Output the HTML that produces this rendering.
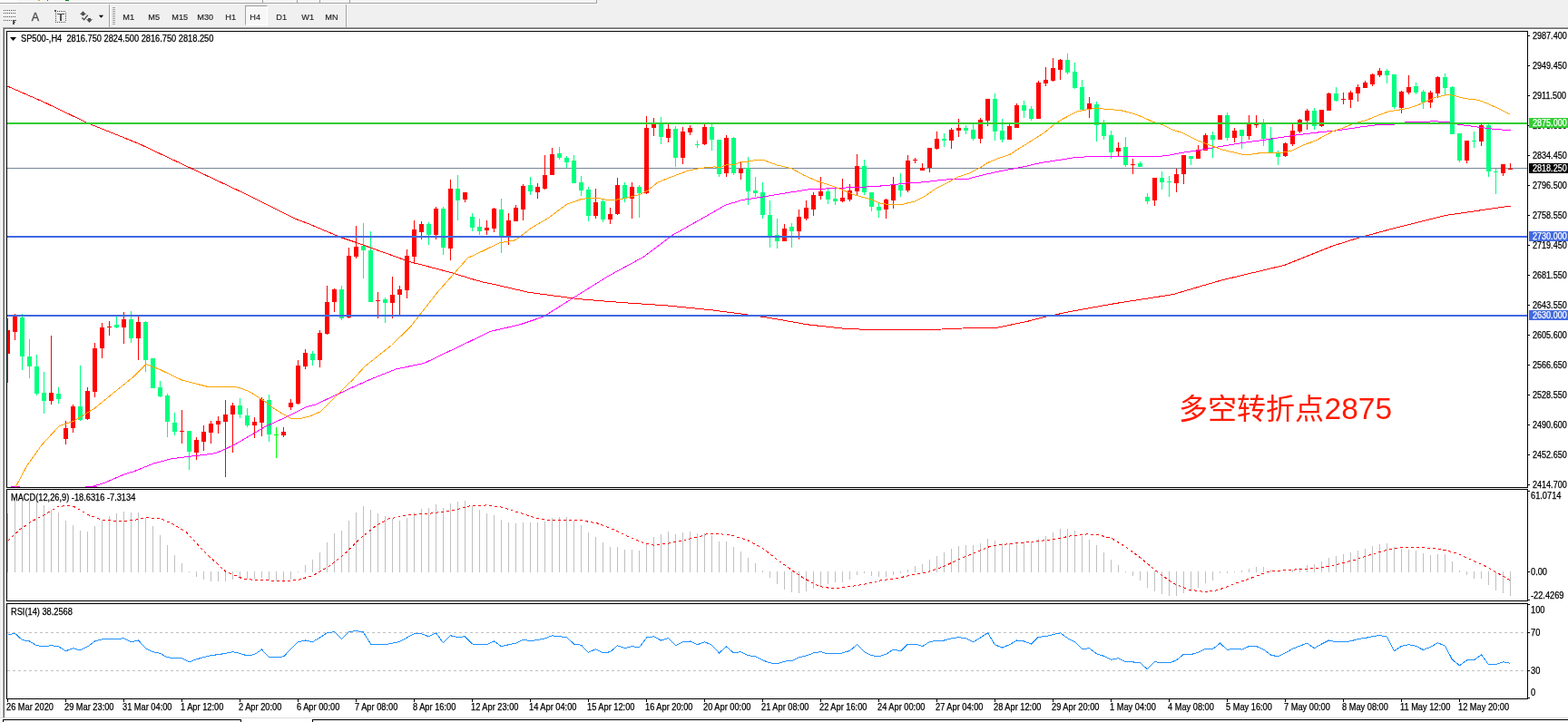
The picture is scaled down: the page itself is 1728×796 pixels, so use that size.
<!DOCTYPE html>
<html><head><meta charset="utf-8"><title>SP500 H4</title>
<style>
html,body{margin:0;padding:0;}
body{width:1728px;height:796px;overflow:hidden;background:#f0f0f0;position:relative;font-family:"Liberation Sans",sans-serif;}
.abs{position:absolute;}
.chart{position:absolute;left:0;top:0;}
.tf{position:absolute;top:13px;font-size:10px;letter-spacing:-0.2px;color:#222;line-height:11px;}
</style></head><body>
<div class="abs" style="left:0;top:0;width:657px;height:3px;background:#f5f5f5;"></div>
<div class="abs" style="left:0;top:0;width:19px;height:3px;background:#fcfcfc;"></div>
<div class="abs" style="left:0;top:3px;width:658px;height:1px;background:#a0a0a0;"></div>
<div class="abs" style="left:657px;top:0;width:1px;height:4px;background:#a0a0a0;"></div>
<div class="abs" style="left:0;top:4px;width:659px;height:1px;background:#fff;"></div>
<div class="abs" style="left:42px;top:0;width:2px;height:1px;background:#d0b040;"></div>
<div class="abs" style="left:52px;top:0;width:1px;height:1px;background:#555;"></div>
<div class="abs" style="left:72px;top:0;width:4px;height:1px;background:#108010;"></div>
<!-- toolbar separators -->
<div class="abs" style="left:120px;top:5px;width:1px;height:25px;background:#a0a0a0;"></div>
<div class="abs" style="left:121px;top:5px;width:1px;height:25px;background:#fff;"></div>
<div class="abs" style="left:381px;top:5px;width:1px;height:25px;background:#a0a0a0;"></div>
<div class="abs" style="left:382px;top:5px;width:1px;height:25px;background:#fff;"></div>
<div class="abs" style="left:289px;top:0;width:1px;height:3px;background:#a0a0a0;"></div>
<div class="abs" style="left:327px;top:0;width:1px;height:3px;background:#a0a0a0;"></div>
<div class="abs" style="left:352px;top:0;width:1px;height:3px;background:#a0a0a0;"></div>
<div class="abs" style="left:385px;top:0;width:1px;height:3px;background:#a0a0a0;"></div>
<div class="abs" style="left:124px;top:8px;width:3px;height:19px;background:repeating-linear-gradient(#a0a0a0 0 1px,transparent 1px 2px);"></div>
<!-- pressed H4 -->
<div class="abs" style="left:270px;top:6px;width:25px;height:22px;background:#f7f7f7;border-top:1px solid #a0a0a0;border-left:1px solid #a0a0a0;border-right:1px solid #fff;border-bottom:1px solid #fff;box-sizing:border-box;"></div>
<svg class="abs" style="left:0;top:0" width="400" height="30" viewBox="0 0 400 30"><text x="135.3" y="21.8" font-family="Liberation Sans, sans-serif" font-size="9.6" textLength="12.71" lengthAdjust="spacingAndGlyphs" fill="#2a2a2a" stroke="#2a2a2a" stroke-width="0.2">M1</text><text x="163.3" y="21.8" font-family="Liberation Sans, sans-serif" font-size="9.6" textLength="12.71" lengthAdjust="spacingAndGlyphs" fill="#2a2a2a" stroke="#2a2a2a" stroke-width="0.2">M5</text><text x="189.3" y="21.8" font-family="Liberation Sans, sans-serif" font-size="9.6" textLength="17.80" lengthAdjust="spacingAndGlyphs" fill="#2a2a2a" stroke="#2a2a2a" stroke-width="0.2">M15</text><text x="217.3" y="21.8" font-family="Liberation Sans, sans-serif" font-size="9.6" textLength="17.80" lengthAdjust="spacingAndGlyphs" fill="#2a2a2a" stroke="#2a2a2a" stroke-width="0.2">M30</text><text x="248.3" y="21.8" font-family="Liberation Sans, sans-serif" font-size="9.6" textLength="11.70" lengthAdjust="spacingAndGlyphs" fill="#2a2a2a" stroke="#2a2a2a" stroke-width="0.2">H1</text><text x="275.3" y="21.8" font-family="Liberation Sans, sans-serif" font-size="9.6" textLength="11.70" lengthAdjust="spacingAndGlyphs" fill="#2a2a2a" stroke="#2a2a2a" stroke-width="0.2">H4</text><text x="304.3" y="21.8" font-family="Liberation Sans, sans-serif" font-size="9.6" textLength="11.70" lengthAdjust="spacingAndGlyphs" fill="#2a2a2a" stroke="#2a2a2a" stroke-width="0.2">D1</text><text x="332.3" y="21.8" font-family="Liberation Sans, sans-serif" font-size="9.6" textLength="13.73" lengthAdjust="spacingAndGlyphs" fill="#2a2a2a" stroke="#2a2a2a" stroke-width="0.2">W1</text><text x="358.3" y="21.8" font-family="Liberation Sans, sans-serif" font-size="9.6" textLength="14.23" lengthAdjust="spacingAndGlyphs" fill="#2a2a2a" stroke="#2a2a2a" stroke-width="0.2">MN</text></svg>
<!-- icons -->
<svg class="abs" style="left:0;top:0" width="120" height="30" viewBox="0 0 120 30">
 <g fill="#505050" shape-rendering="crispEdges">
  <rect x="4" y="11" width="1" height="1"/><rect x="6" y="11" width="1" height="1"/><rect x="8" y="11" width="1" height="1"/><rect x="10" y="11" width="1" height="1"/><rect x="12" y="11" width="1" height="1"/><rect x="14" y="11" width="1" height="1"/><rect x="16" y="11" width="1" height="1"/>
  <rect x="4" y="14" width="1" height="1"/><rect x="6" y="14" width="1" height="1"/><rect x="8" y="14" width="1" height="1"/><rect x="10" y="14" width="1" height="1"/><rect x="12" y="14" width="1" height="1"/><rect x="14" y="14" width="1" height="1"/><rect x="16" y="14" width="1" height="1"/>
  <rect x="4" y="18" width="1" height="1"/><rect x="6" y="18" width="1" height="1"/><rect x="8" y="18" width="1" height="1"/><rect x="10" y="18" width="1" height="1"/><rect x="12" y="18" width="1" height="1"/><rect x="14" y="18" width="1" height="1"/><rect x="16" y="18" width="1" height="1"/>
  <rect x="4" y="22" width="1" height="1"/><rect x="6" y="22" width="1" height="1"/><rect x="8" y="22" width="1" height="1"/><rect x="10" y="22" width="1" height="1"/><rect x="12" y="22" width="1" height="1"/>
  <rect x="14" y="22" width="4" height="1"/><rect x="14" y="22" width="1.5" height="5"/><rect x="14" y="24" width="3" height="1"/>
  <rect x="61" y="12" width="1" height="1"/><rect x="60" y="11" width="2" height="1.5"/>
  <rect x="63" y="12" width="1" height="1"/><rect x="65" y="12" width="1" height="1"/><rect x="67" y="12" width="1" height="1"/><rect x="69" y="12" width="1" height="1"/><rect x="71" y="12" width="1" height="1"/>
  <rect x="61" y="24" width="1" height="1"/><rect x="63" y="24" width="1" height="1"/><rect x="65" y="24" width="1" height="1"/><rect x="67" y="24" width="1" height="1"/><rect x="69" y="24" width="1" height="1"/><rect x="71" y="24" width="1" height="1"/>
  <rect x="61" y="14" width="1" height="1"/><rect x="61" y="16" width="1" height="1"/><rect x="61" y="18" width="1" height="1"/><rect x="61" y="20" width="1" height="1"/><rect x="61" y="22" width="1" height="1"/>
  <rect x="72" y="14" width="1" height="1"/><rect x="72" y="16" width="1" height="1"/><rect x="72" y="18" width="1" height="1"/><rect x="72" y="20" width="1" height="1"/><rect x="72" y="22" width="1" height="1"/>
  <rect x="63" y="15" width="8" height="1.3"/><rect x="66.2" y="15" width="1.8" height="7.6"/>
 </g>
 <text x="34.8" y="22.8" font-family="Liberation Sans, sans-serif" font-size="12.5" fill="#505050" stroke="#505050" stroke-width="0.35">A</text>
 <path d="M88 16L91.5 12.3L95 16L93 16L93 17.3L90 17.3L90 16Z M97 20L100 20L100 21.3L102 21.3L98.5 25L95 21.3L97 21.3Z" fill="#505050"/>
 <path d="M90.4 19.6L92.6 21.8L96.8 16.6" stroke="#505050" stroke-width="1.4" fill="none"/>
 <path d="M108.9 16.8h5.2l-2.6 3z" fill="#000"/>
</svg>
<!-- MDI sunken edge -->
<div class="abs" style="left:3px;top:30px;width:1725px;height:1px;background:#a0a0a0;"></div>
<div class="abs" style="left:4px;top:31px;width:1724px;height:1px;background:#696969;"></div>
<div class="abs" style="left:3px;top:30px;width:1px;height:761px;background:#a0a0a0;"></div>
<div class="abs" style="left:4px;top:31px;width:1px;height:760px;background:#696969;"></div>
<div class="abs" style="left:2px;top:31px;width:1px;height:760px;background:#fff;"></div>
<svg class="chart" width="1728" height="796" viewBox="0 0 1728 796"><rect x="5" y="32" width="1723" height="759" fill="#fff"/><defs><clipPath id="cm"><rect x="8" y="35" width="1675" height="502"/></clipPath><clipPath id="cd"><rect x="8" y="541" width="1675" height="121"/></clipPath><clipPath id="cr"><rect x="8" y="667" width="1675" height="103"/></clipPath></defs><g clip-path="url(#cm)" shape-rendering="crispEdges"><rect x="8" y="185" width="1675" height="1" fill="#778899"/><rect x="8" y="351" width="1" height="71" fill="#ff0000"/><rect x="6" y="364" width="5" height="26" fill="#ff0000"/><rect x="16" y="346" width="1" height="29" fill="#ff0000"/><rect x="14" y="349" width="5" height="17" fill="#ff0000"/><rect x="24" y="346" width="1" height="62" fill="#00ff7f"/><rect x="22" y="350" width="5" height="43" fill="#00ff7f"/><rect x="32" y="374" width="1" height="43" fill="#00ff7f"/><rect x="30" y="393" width="5" height="11" fill="#00ff7f"/><rect x="40" y="391" width="1" height="45" fill="#00ff7f"/><rect x="38" y="404" width="5" height="30" fill="#00ff7f"/><rect x="48" y="410" width="1" height="46" fill="#00ff7f"/><rect x="46" y="433" width="5" height="9" fill="#00ff7f"/><rect x="56" y="370" width="1" height="76" fill="#ff0000"/><rect x="54" y="433" width="5" height="9" fill="#ff0000"/><rect x="64" y="427" width="1" height="18" fill="#00ff7f"/><rect x="62" y="434" width="5" height="6" fill="#00ff7f"/><rect x="72" y="464" width="1" height="26" fill="#ff0000"/><rect x="70" y="472" width="5" height="12" fill="#ff0000"/><rect x="80" y="446" width="1" height="31" fill="#ff0000"/><rect x="78" y="448" width="5" height="24" fill="#ff0000"/><rect x="88" y="403" width="1" height="61" fill="#00ff7f"/><rect x="86" y="448" width="5" height="15" fill="#00ff7f"/><rect x="96" y="427" width="1" height="36" fill="#ff0000"/><rect x="94" y="431" width="5" height="31" fill="#ff0000"/><rect x="104" y="378" width="1" height="60" fill="#ff0000"/><rect x="102" y="384" width="5" height="48" fill="#ff0000"/><rect x="112" y="356" width="1" height="39" fill="#ff0000"/><rect x="110" y="361" width="5" height="23" fill="#ff0000"/><rect x="120" y="354" width="1" height="16" fill="#ff0000"/><rect x="118" y="360" width="5" height="1" fill="#ff0000"/><rect x="128" y="349" width="1" height="13" fill="#00ff7f"/><rect x="126" y="358" width="5" height="3" fill="#00ff7f"/><rect x="136" y="344" width="1" height="35" fill="#ff0000"/><rect x="134" y="352" width="5" height="9" fill="#ff0000"/><rect x="144" y="343" width="1" height="35" fill="#00ff7f"/><rect x="142" y="352" width="5" height="21" fill="#00ff7f"/><rect x="152" y="349" width="1" height="48" fill="#ff0000"/><rect x="150" y="355" width="5" height="18" fill="#ff0000"/><rect x="160" y="354" width="1" height="56" fill="#00ff7f"/><rect x="158" y="355" width="5" height="42" fill="#00ff7f"/><rect x="168" y="395" width="1" height="33" fill="#00ff7f"/><rect x="166" y="395" width="5" height="33" fill="#00ff7f"/><rect x="176" y="420" width="1" height="18" fill="#00ff7f"/><rect x="174" y="427" width="5" height="10" fill="#00ff7f"/><rect x="184" y="434" width="1" height="48" fill="#00ff7f"/><rect x="182" y="436" width="5" height="29" fill="#00ff7f"/><rect x="192" y="455" width="1" height="25" fill="#00ff7f"/><rect x="190" y="466" width="5" height="10" fill="#00ff7f"/><rect x="200" y="452" width="1" height="37" fill="#ff0000"/><rect x="198" y="475" width="5" height="1" fill="#ff0000"/><rect x="208" y="475" width="1" height="43" fill="#00ff7f"/><rect x="206" y="475" width="5" height="23" fill="#00ff7f"/><rect x="216" y="482" width="1" height="25" fill="#ff0000"/><rect x="214" y="485" width="5" height="14" fill="#ff0000"/><rect x="224" y="469" width="1" height="28" fill="#ff0000"/><rect x="222" y="476" width="5" height="11" fill="#ff0000"/><rect x="232" y="464" width="1" height="25" fill="#ff0000"/><rect x="230" y="467" width="5" height="10" fill="#ff0000"/><rect x="240" y="459" width="1" height="19" fill="#ff0000"/><rect x="238" y="464" width="5" height="4" fill="#ff0000"/><rect x="248" y="441" width="1" height="85" fill="#ff0000"/><rect x="246" y="457" width="5" height="8" fill="#ff0000"/><rect x="256" y="444" width="1" height="55" fill="#ff0000"/><rect x="254" y="447" width="5" height="10" fill="#ff0000"/><rect x="264" y="439" width="1" height="22" fill="#00ff7f"/><rect x="262" y="447" width="5" height="10" fill="#00ff7f"/><rect x="272" y="450" width="1" height="21" fill="#00ff7f"/><rect x="270" y="458" width="5" height="11" fill="#00ff7f"/><rect x="280" y="460" width="1" height="23" fill="#ff0000"/><rect x="278" y="465" width="5" height="4" fill="#ff0000"/><rect x="288" y="438" width="1" height="43" fill="#ff0000"/><rect x="286" y="440" width="5" height="26" fill="#ff0000"/><rect x="296" y="435" width="1" height="52" fill="#00ff7f"/><rect x="294" y="441" width="5" height="38" fill="#00ff7f"/><rect x="304" y="471" width="1" height="34" fill="#00ff00"/><rect x="302" y="479" width="5" height="1" fill="#00ff00"/><rect x="312" y="471" width="1" height="11" fill="#ff0000"/><rect x="310" y="476" width="5" height="4" fill="#ff0000"/><rect x="320" y="440" width="1" height="12" fill="#ff0000"/><rect x="318" y="444" width="5" height="5" fill="#ff0000"/><rect x="328" y="397" width="1" height="49" fill="#ff0000"/><rect x="326" y="403" width="5" height="42" fill="#ff0000"/><rect x="336" y="385" width="1" height="22" fill="#ff0000"/><rect x="334" y="389" width="5" height="15" fill="#ff0000"/><rect x="344" y="387" width="1" height="16" fill="#00ff7f"/><rect x="342" y="390" width="5" height="7" fill="#00ff7f"/><rect x="352" y="364" width="1" height="41" fill="#ff0000"/><rect x="350" y="367" width="5" height="30" fill="#ff0000"/><rect x="360" y="315" width="1" height="54" fill="#ff0000"/><rect x="358" y="333" width="5" height="35" fill="#ff0000"/><rect x="368" y="318" width="1" height="26" fill="#ff0000"/><rect x="366" y="319" width="5" height="14" fill="#ff0000"/><rect x="376" y="315" width="1" height="38" fill="#00ff7f"/><rect x="374" y="319" width="5" height="32" fill="#00ff7f"/><rect x="384" y="273" width="1" height="78" fill="#ff0000"/><rect x="382" y="282" width="5" height="68" fill="#ff0000"/><rect x="392" y="249" width="1" height="36" fill="#ff0000"/><rect x="390" y="272" width="5" height="11" fill="#ff0000"/><rect x="400" y="246" width="1" height="61" fill="#00ff7f"/><rect x="398" y="271" width="5" height="5" fill="#00ff7f"/><rect x="408" y="255" width="1" height="78" fill="#00ff7f"/><rect x="406" y="276" width="5" height="57" fill="#00ff7f"/><rect x="416" y="322" width="1" height="29" fill="#ff0000"/><rect x="414" y="331" width="5" height="1" fill="#ff0000"/><rect x="424" y="328" width="1" height="28" fill="#00ff7f"/><rect x="422" y="330" width="5" height="4" fill="#00ff7f"/><rect x="432" y="305" width="1" height="46" fill="#ff0000"/><rect x="430" y="325" width="5" height="9" fill="#ff0000"/><rect x="440" y="315" width="1" height="34" fill="#ff0000"/><rect x="438" y="319" width="5" height="6" fill="#ff0000"/><rect x="448" y="275" width="1" height="54" fill="#ff0000"/><rect x="446" y="282" width="5" height="38" fill="#ff0000"/><rect x="456" y="243" width="1" height="46" fill="#ff0000"/><rect x="454" y="253" width="5" height="30" fill="#ff0000"/><rect x="464" y="244" width="1" height="20" fill="#ff0000"/><rect x="462" y="247" width="5" height="9" fill="#ff0000"/><rect x="472" y="245" width="1" height="25" fill="#00ff7f"/><rect x="470" y="247" width="5" height="12" fill="#00ff7f"/><rect x="480" y="228" width="1" height="36" fill="#ff0000"/><rect x="478" y="230" width="5" height="29" fill="#ff0000"/><rect x="488" y="228" width="1" height="53" fill="#00ff7f"/><rect x="486" y="230" width="5" height="43" fill="#00ff7f"/><rect x="496" y="198" width="1" height="89" fill="#ff0000"/><rect x="494" y="208" width="5" height="66" fill="#ff0000"/><rect x="504" y="193" width="1" height="50" fill="#00ff7f"/><rect x="502" y="208" width="5" height="13" fill="#00ff7f"/><rect x="512" y="212" width="1" height="11" fill="#ff0000"/><rect x="510" y="212" width="5" height="8" fill="#ff0000"/><rect x="520" y="235" width="1" height="20" fill="#00ff7f"/><rect x="518" y="239" width="5" height="12" fill="#00ff7f"/><rect x="528" y="241" width="1" height="18" fill="#00ff7f"/><rect x="526" y="250" width="5" height="5" fill="#00ff7f"/><rect x="536" y="243" width="1" height="16" fill="#ff0000"/><rect x="534" y="251" width="5" height="3" fill="#ff0000"/><rect x="544" y="229" width="1" height="27" fill="#ff0000"/><rect x="542" y="230" width="5" height="22" fill="#ff0000"/><rect x="552" y="219" width="1" height="60" fill="#00ff7f"/><rect x="550" y="231" width="5" height="29" fill="#00ff7f"/><rect x="560" y="235" width="1" height="35" fill="#ff0000"/><rect x="558" y="243" width="5" height="17" fill="#ff0000"/><rect x="568" y="226" width="1" height="18" fill="#ff0000"/><rect x="566" y="229" width="5" height="15" fill="#ff0000"/><rect x="576" y="203" width="1" height="40" fill="#ff0000"/><rect x="574" y="205" width="5" height="26" fill="#ff0000"/><rect x="584" y="195" width="1" height="20" fill="#00ff7f"/><rect x="582" y="204" width="5" height="7" fill="#00ff7f"/><rect x="592" y="202" width="1" height="17" fill="#ff0000"/><rect x="590" y="206" width="5" height="6" fill="#ff0000"/><rect x="600" y="171" width="1" height="38" fill="#ff0000"/><rect x="598" y="193" width="5" height="15" fill="#ff0000"/><rect x="608" y="163" width="1" height="30" fill="#ff0000"/><rect x="606" y="170" width="5" height="23" fill="#ff0000"/><rect x="616" y="162" width="1" height="14" fill="#00ff7f"/><rect x="614" y="169" width="5" height="5" fill="#00ff7f"/><rect x="624" y="172" width="1" height="13" fill="#00ff7f"/><rect x="622" y="174" width="5" height="5" fill="#00ff7f"/><rect x="632" y="171" width="1" height="31" fill="#00ff7f"/><rect x="630" y="177" width="5" height="25" fill="#00ff7f"/><rect x="640" y="194" width="1" height="22" fill="#00ff7f"/><rect x="638" y="201" width="5" height="9" fill="#00ff7f"/><rect x="648" y="206" width="1" height="38" fill="#00ff7f"/><rect x="646" y="209" width="5" height="29" fill="#00ff7f"/><rect x="656" y="208" width="1" height="33" fill="#ff0000"/><rect x="654" y="223" width="5" height="15" fill="#ff0000"/><rect x="664" y="220" width="1" height="25" fill="#00ff7f"/><rect x="662" y="222" width="5" height="20" fill="#00ff7f"/><rect x="672" y="229" width="1" height="18" fill="#ff0000"/><rect x="670" y="236" width="5" height="6" fill="#ff0000"/><rect x="680" y="196" width="1" height="41" fill="#ff0000"/><rect x="678" y="204" width="5" height="32" fill="#ff0000"/><rect x="688" y="201" width="1" height="22" fill="#00ff7f"/><rect x="686" y="204" width="5" height="15" fill="#00ff7f"/><rect x="696" y="201" width="1" height="40" fill="#ff0000"/><rect x="694" y="206" width="5" height="13" fill="#ff0000"/><rect x="704" y="204" width="1" height="36" fill="#00ff7f"/><rect x="702" y="206" width="5" height="7" fill="#00ff7f"/><rect x="712" y="128" width="1" height="86" fill="#ff0000"/><rect x="710" y="141" width="5" height="72" fill="#ff0000"/><rect x="720" y="130" width="1" height="20" fill="#ff0000"/><rect x="718" y="136" width="5" height="5" fill="#ff0000"/><rect x="728" y="129" width="1" height="30" fill="#00ff7f"/><rect x="726" y="136" width="5" height="15" fill="#00ff7f"/><rect x="736" y="137" width="1" height="20" fill="#ff0000"/><rect x="734" y="142" width="5" height="10" fill="#ff0000"/><rect x="744" y="139" width="1" height="45" fill="#00ff7f"/><rect x="742" y="142" width="5" height="32" fill="#00ff7f"/><rect x="752" y="140" width="1" height="41" fill="#ff0000"/><rect x="750" y="145" width="5" height="29" fill="#ff0000"/><rect x="760" y="138" width="1" height="11" fill="#ff0000"/><rect x="758" y="141" width="5" height="5" fill="#ff0000"/><rect x="768" y="155" width="1" height="8" fill="#00ff7f"/><rect x="766" y="159" width="5" height="1" fill="#00ff7f"/><rect x="776" y="137" width="1" height="23" fill="#ff0000"/><rect x="774" y="140" width="5" height="19" fill="#ff0000"/><rect x="784" y="136" width="1" height="30" fill="#00ff7f"/><rect x="782" y="140" width="5" height="14" fill="#00ff7f"/><rect x="792" y="154" width="1" height="41" fill="#00ff7f"/><rect x="790" y="154" width="5" height="38" fill="#00ff7f"/><rect x="800" y="149" width="1" height="46" fill="#ff0000"/><rect x="798" y="152" width="5" height="39" fill="#ff0000"/><rect x="808" y="151" width="1" height="42" fill="#00ff7f"/><rect x="806" y="152" width="5" height="39" fill="#00ff7f"/><rect x="816" y="178" width="1" height="20" fill="#ff0000"/><rect x="814" y="186" width="5" height="5" fill="#ff0000"/><rect x="824" y="173" width="1" height="53" fill="#00ff7f"/><rect x="822" y="185" width="5" height="26" fill="#00ff7f"/><rect x="832" y="195" width="1" height="22" fill="#00ff7f"/><rect x="830" y="210" width="5" height="3" fill="#00ff7f"/><rect x="840" y="201" width="1" height="40" fill="#00ff7f"/><rect x="838" y="212" width="5" height="25" fill="#00ff7f"/><rect x="848" y="221" width="1" height="52" fill="#00ff7f"/><rect x="846" y="237" width="5" height="23" fill="#00ff7f"/><rect x="856" y="241" width="1" height="33" fill="#00ff7f"/><rect x="854" y="259" width="5" height="7" fill="#00ff7f"/><rect x="864" y="247" width="1" height="19" fill="#ff0000"/><rect x="862" y="252" width="5" height="14" fill="#ff0000"/><rect x="872" y="246" width="1" height="27" fill="#00ff7f"/><rect x="870" y="250" width="5" height="5" fill="#00ff7f"/><rect x="880" y="231" width="1" height="33" fill="#ff0000"/><rect x="878" y="239" width="5" height="16" fill="#ff0000"/><rect x="888" y="221" width="1" height="22" fill="#ff0000"/><rect x="886" y="229" width="5" height="12" fill="#ff0000"/><rect x="896" y="212" width="1" height="26" fill="#ff0000"/><rect x="894" y="215" width="5" height="16" fill="#ff0000"/><rect x="904" y="195" width="1" height="25" fill="#ff0000"/><rect x="902" y="211" width="5" height="5" fill="#ff0000"/><rect x="912" y="208" width="1" height="17" fill="#00ff7f"/><rect x="910" y="211" width="5" height="9" fill="#00ff7f"/><rect x="920" y="208" width="1" height="18" fill="#00ff7f"/><rect x="918" y="219" width="5" height="3" fill="#00ff7f"/><rect x="928" y="197" width="1" height="26" fill="#ff0000"/><rect x="926" y="218" width="5" height="4" fill="#ff0000"/><rect x="936" y="203" width="1" height="19" fill="#ff0000"/><rect x="934" y="210" width="5" height="10" fill="#ff0000"/><rect x="944" y="170" width="1" height="45" fill="#ff0000"/><rect x="942" y="183" width="5" height="28" fill="#ff0000"/><rect x="952" y="176" width="1" height="39" fill="#00ff7f"/><rect x="950" y="183" width="5" height="29" fill="#00ff7f"/><rect x="960" y="212" width="1" height="21" fill="#00ff7f"/><rect x="958" y="212" width="5" height="16" fill="#00ff7f"/><rect x="968" y="224" width="1" height="16" fill="#00ff7f"/><rect x="966" y="228" width="5" height="4" fill="#00ff7f"/><rect x="976" y="219" width="1" height="22" fill="#ff0000"/><rect x="974" y="220" width="5" height="11" fill="#ff0000"/><rect x="984" y="195" width="1" height="35" fill="#ff0000"/><rect x="982" y="203" width="5" height="18" fill="#ff0000"/><rect x="992" y="191" width="1" height="26" fill="#00ff7f"/><rect x="990" y="204" width="5" height="6" fill="#00ff7f"/><rect x="1000" y="171" width="1" height="41" fill="#ff0000"/><rect x="998" y="177" width="5" height="33" fill="#ff0000"/><rect x="1008" y="174" width="1" height="6" fill="#ff0000"/><rect x="1006" y="176" width="5" height="1" fill="#ff0000"/><rect x="1016" y="180" width="1" height="8" fill="#ff0000"/><rect x="1014" y="185" width="5" height="3" fill="#ff0000"/><rect x="1024" y="163" width="1" height="27" fill="#ff0000"/><rect x="1022" y="163" width="5" height="22" fill="#ff0000"/><rect x="1032" y="145" width="1" height="20" fill="#ff0000"/><rect x="1030" y="153" width="5" height="11" fill="#ff0000"/><rect x="1040" y="147" width="1" height="15" fill="#00ff7f"/><rect x="1038" y="153" width="5" height="2" fill="#00ff7f"/><rect x="1048" y="141" width="1" height="23" fill="#ff0000"/><rect x="1046" y="143" width="5" height="12" fill="#ff0000"/><rect x="1056" y="131" width="1" height="20" fill="#ff0000"/><rect x="1054" y="141" width="5" height="3" fill="#ff0000"/><rect x="1064" y="138" width="1" height="10" fill="#00ff7f"/><rect x="1062" y="141" width="5" height="3" fill="#00ff7f"/><rect x="1072" y="137" width="1" height="18" fill="#00ff7f"/><rect x="1070" y="143" width="5" height="10" fill="#00ff7f"/><rect x="1080" y="130" width="1" height="28" fill="#ff0000"/><rect x="1078" y="132" width="5" height="21" fill="#ff0000"/><rect x="1088" y="109" width="1" height="30" fill="#ff0000"/><rect x="1086" y="109" width="5" height="24" fill="#ff0000"/><rect x="1096" y="103" width="1" height="52" fill="#00ff7f"/><rect x="1094" y="109" width="5" height="36" fill="#00ff7f"/><rect x="1104" y="131" width="1" height="26" fill="#00ff7f"/><rect x="1102" y="144" width="5" height="10" fill="#00ff7f"/><rect x="1112" y="137" width="1" height="17" fill="#ff0000"/><rect x="1110" y="139" width="5" height="15" fill="#ff0000"/><rect x="1120" y="114" width="1" height="27" fill="#ff0000"/><rect x="1118" y="116" width="5" height="25" fill="#ff0000"/><rect x="1128" y="111" width="1" height="19" fill="#00ff7f"/><rect x="1126" y="116" width="5" height="6" fill="#00ff7f"/><rect x="1136" y="117" width="1" height="16" fill="#00ff7f"/><rect x="1134" y="120" width="5" height="11" fill="#00ff7f"/><rect x="1144" y="89" width="1" height="42" fill="#ff0000"/><rect x="1142" y="91" width="5" height="40" fill="#ff0000"/><rect x="1152" y="74" width="1" height="21" fill="#ff0000"/><rect x="1150" y="88" width="5" height="4" fill="#ff0000"/><rect x="1160" y="64" width="1" height="26" fill="#ff0000"/><rect x="1158" y="75" width="5" height="14" fill="#ff0000"/><rect x="1168" y="65" width="1" height="23" fill="#ff0000"/><rect x="1166" y="66" width="5" height="11" fill="#ff0000"/><rect x="1176" y="59" width="1" height="23" fill="#00ff7f"/><rect x="1174" y="66" width="5" height="14" fill="#00ff7f"/><rect x="1184" y="69" width="1" height="29" fill="#00ff7f"/><rect x="1182" y="79" width="5" height="18" fill="#00ff7f"/><rect x="1192" y="88" width="1" height="34" fill="#00ff7f"/><rect x="1190" y="96" width="5" height="25" fill="#00ff7f"/><rect x="1200" y="107" width="1" height="23" fill="#ff0000"/><rect x="1198" y="114" width="5" height="6" fill="#ff0000"/><rect x="1208" y="112" width="1" height="44" fill="#00ff7f"/><rect x="1206" y="115" width="5" height="23" fill="#00ff7f"/><rect x="1216" y="132" width="1" height="22" fill="#00ff7f"/><rect x="1214" y="136" width="5" height="14" fill="#00ff7f"/><rect x="1224" y="144" width="1" height="31" fill="#00ff7f"/><rect x="1222" y="149" width="5" height="19" fill="#00ff7f"/><rect x="1232" y="157" width="1" height="15" fill="#ff0000"/><rect x="1230" y="163" width="5" height="4" fill="#ff0000"/><rect x="1240" y="151" width="1" height="33" fill="#00ff7f"/><rect x="1238" y="162" width="5" height="20" fill="#00ff7f"/><rect x="1248" y="175" width="1" height="17" fill="#ff0000"/><rect x="1246" y="181" width="5" height="1" fill="#ff0000"/><rect x="1256" y="178" width="1" height="6" fill="#00ff7f"/><rect x="1254" y="180" width="5" height="4" fill="#00ff7f"/><rect x="1264" y="213" width="1" height="12" fill="#00ff7f"/><rect x="1262" y="217" width="5" height="5" fill="#00ff7f"/><rect x="1272" y="196" width="1" height="31" fill="#ff0000"/><rect x="1270" y="196" width="5" height="25" fill="#ff0000"/><rect x="1280" y="189" width="1" height="20" fill="#00ff7f"/><rect x="1278" y="196" width="5" height="5" fill="#00ff7f"/><rect x="1288" y="194" width="1" height="23" fill="#00ff7f"/><rect x="1286" y="200" width="5" height="1" fill="#00ff7f"/><rect x="1296" y="186" width="1" height="26" fill="#ff0000"/><rect x="1294" y="192" width="5" height="10" fill="#ff0000"/><rect x="1304" y="171" width="1" height="32" fill="#ff0000"/><rect x="1302" y="171" width="5" height="21" fill="#ff0000"/><rect x="1312" y="172" width="1" height="10" fill="#00ff7f"/><rect x="1310" y="172" width="5" height="3" fill="#00ff7f"/><rect x="1320" y="160" width="1" height="15" fill="#ff0000"/><rect x="1318" y="165" width="5" height="10" fill="#ff0000"/><rect x="1328" y="147" width="1" height="19" fill="#ff0000"/><rect x="1326" y="149" width="5" height="17" fill="#ff0000"/><rect x="1336" y="145" width="1" height="29" fill="#00ff7f"/><rect x="1334" y="149" width="5" height="5" fill="#00ff7f"/><rect x="1344" y="127" width="1" height="27" fill="#ff0000"/><rect x="1342" y="127" width="5" height="27" fill="#ff0000"/><rect x="1352" y="124" width="1" height="31" fill="#00ff7f"/><rect x="1350" y="127" width="5" height="25" fill="#00ff7f"/><rect x="1360" y="141" width="1" height="16" fill="#ff0000"/><rect x="1358" y="144" width="5" height="8" fill="#ff0000"/><rect x="1368" y="143" width="1" height="21" fill="#00ff7f"/><rect x="1366" y="143" width="5" height="7" fill="#00ff7f"/><rect x="1376" y="127" width="1" height="27" fill="#ff0000"/><rect x="1374" y="136" width="5" height="14" fill="#ff0000"/><rect x="1384" y="127" width="1" height="14" fill="#ff0000"/><rect x="1382" y="137" width="5" height="1" fill="#ff0000"/><rect x="1392" y="131" width="1" height="30" fill="#00ff7f"/><rect x="1390" y="136" width="5" height="17" fill="#00ff7f"/><rect x="1400" y="140" width="1" height="28" fill="#00ff7f"/><rect x="1398" y="153" width="5" height="15" fill="#00ff7f"/><rect x="1408" y="166" width="1" height="16" fill="#00ff7f"/><rect x="1406" y="169" width="5" height="4" fill="#00ff7f"/><rect x="1416" y="157" width="1" height="16" fill="#ff0000"/><rect x="1414" y="158" width="5" height="14" fill="#ff0000"/><rect x="1424" y="137" width="1" height="24" fill="#ff0000"/><rect x="1422" y="144" width="5" height="15" fill="#ff0000"/><rect x="1432" y="131" width="1" height="16" fill="#ff0000"/><rect x="1430" y="132" width="5" height="13" fill="#ff0000"/><rect x="1440" y="120" width="1" height="23" fill="#ff0000"/><rect x="1438" y="122" width="5" height="11" fill="#ff0000"/><rect x="1448" y="119" width="1" height="24" fill="#00ff7f"/><rect x="1446" y="122" width="5" height="17" fill="#00ff7f"/><rect x="1456" y="121" width="1" height="19" fill="#ff0000"/><rect x="1454" y="121" width="5" height="18" fill="#ff0000"/><rect x="1464" y="102" width="1" height="20" fill="#ff0000"/><rect x="1462" y="103" width="5" height="19" fill="#ff0000"/><rect x="1472" y="96" width="1" height="16" fill="#00ff7f"/><rect x="1470" y="103" width="5" height="8" fill="#00ff7f"/><rect x="1480" y="102" width="1" height="13" fill="#ff0000"/><rect x="1478" y="109" width="5" height="1" fill="#ff0000"/><rect x="1488" y="100" width="1" height="19" fill="#ff0000"/><rect x="1486" y="102" width="5" height="8" fill="#ff0000"/><rect x="1496" y="93" width="1" height="19" fill="#ff0000"/><rect x="1494" y="96" width="5" height="7" fill="#ff0000"/><rect x="1504" y="89" width="1" height="8" fill="#ff0000"/><rect x="1502" y="91" width="5" height="6" fill="#ff0000"/><rect x="1512" y="81" width="1" height="14" fill="#ff0000"/><rect x="1510" y="82" width="5" height="11" fill="#ff0000"/><rect x="1520" y="75" width="1" height="10" fill="#ff0000"/><rect x="1518" y="78" width="5" height="5" fill="#ff0000"/><rect x="1528" y="76" width="1" height="16" fill="#00ff7f"/><rect x="1526" y="78" width="5" height="5" fill="#00ff7f"/><rect x="1536" y="82" width="1" height="38" fill="#00ff7f"/><rect x="1534" y="82" width="5" height="36" fill="#00ff7f"/><rect x="1544" y="100" width="1" height="25" fill="#ff0000"/><rect x="1542" y="101" width="5" height="18" fill="#ff0000"/><rect x="1552" y="83" width="1" height="21" fill="#ff0000"/><rect x="1550" y="96" width="5" height="6" fill="#ff0000"/><rect x="1560" y="91" width="1" height="13" fill="#00ff7f"/><rect x="1558" y="95" width="5" height="7" fill="#00ff7f"/><rect x="1568" y="99" width="1" height="21" fill="#00ff7f"/><rect x="1566" y="101" width="5" height="12" fill="#00ff7f"/><rect x="1576" y="100" width="1" height="19" fill="#ff0000"/><rect x="1574" y="102" width="5" height="11" fill="#ff0000"/><rect x="1584" y="84" width="1" height="24" fill="#ff0000"/><rect x="1582" y="85" width="5" height="18" fill="#ff0000"/><rect x="1592" y="81" width="1" height="23" fill="#00ff7f"/><rect x="1590" y="85" width="5" height="12" fill="#00ff7f"/><rect x="1600" y="95" width="1" height="53" fill="#00ff7f"/><rect x="1598" y="96" width="5" height="52" fill="#00ff7f"/><rect x="1608" y="147" width="1" height="32" fill="#00ff7f"/><rect x="1606" y="147" width="5" height="30" fill="#00ff7f"/><rect x="1616" y="155" width="1" height="25" fill="#ff0000"/><rect x="1614" y="155" width="5" height="22" fill="#ff0000"/><rect x="1624" y="145" width="1" height="18" fill="#00ff7f"/><rect x="1622" y="155" width="5" height="1" fill="#00ff7f"/><rect x="1632" y="137" width="1" height="24" fill="#ff0000"/><rect x="1630" y="138" width="5" height="18" fill="#ff0000"/><rect x="1640" y="137" width="1" height="58" fill="#00ff7f"/><rect x="1638" y="138" width="5" height="51" fill="#00ff7f"/><rect x="1648" y="186" width="1" height="28" fill="#00ff7f"/><rect x="1646" y="189" width="5" height="1" fill="#00ff7f"/><rect x="1656" y="181" width="1" height="13" fill="#ff0000"/><rect x="1654" y="181" width="5" height="10" fill="#ff0000"/><rect x="1664" y="180" width="1" height="7" fill="#ff0000"/><rect x="1662" y="186" width="5" height="1" fill="#ff0000"/><polyline points="8.5,95.1 49.1,112.9 97.7,136.2 152.8,158.3 211.1,185.8 266.2,211.7 324.5,240.9 340.5,246.9 376.4,262.0 393.8,267.8 436.5,283.2 454.2,289.5 463.6,291.6 499.7,301.3 519.0,307.3 532.5,311.1 540.5,312.6 582.6,322.3 637.7,329.7 686.3,333.6 734.9,336.9 783.5,341.7 825.7,347.2 848.3,350.5 890.5,357.9 929.4,362.2 965.0,363.8 1026.5,363.5 1071.9,361.5 1099.9,361.1 1133.5,354.0 1151.1,349.5 1179.3,343.5 1228.8,334.6 1292.3,324.7 1345.2,309.2 1415.8,292.3 1468.8,271.1 1497.0,262.3 1532.3,252.7 1592.3,237.6 1664.7,227.0" fill="none" stroke="#ff0000" stroke-width="1"/><polyline points="8.5,539.5 21.5,538.5 60.5,545.5 94.5,538.5 113.9,532.8 136.6,523.1 148.3,519.5 169.0,511.1 188.9,505.8 196.5,504.8 233.8,500.3 239.3,499.0 257.3,490.9 273.8,481.3 292.5,470.3 317.0,459.2 338.2,448.3 346.4,446.6 369.2,436.0 388.5,427.0 405.5,419.4 428.0,410.3 436.5,406.9 467.1,400.6 509.2,380.5 540.5,365.4 572.9,357.9 598.8,349.2 631.2,328.8 670.1,304.5 709.0,283.4 741.4,259.1 767.3,244.5 799.7,226.1 815.5,221.2 820.5,220.1 842.2,216.8 863.9,213.2 892.8,208.6 916.5,207.8 940.4,206.6 964.3,205.6 982.2,203.9 1000.5,201.7 1019.6,200.8 1038.7,198.2 1068.0,197.0 1076.9,194.4 1096.0,190.0 1112.5,186.8 1127.8,183.9 1146.9,179.5 1166.0,176.6 1183.8,173.7 1197.8,172.8 1220.5,172.8 1274.7,172.7 1286.1,171.5 1300.5,168.7 1320.1,165.9 1340.8,162.2 1368.5,157.6 1388.5,154.9 1405.6,152.4 1430.8,148.6 1455.9,145.6 1468.5,144.4 1481.1,142.8 1499.9,139.9 1516.3,137.8 1532.5,137.8 1548.9,134.9 1564.5,135.0 1580.3,133.6 1597.9,135.0 1608.5,137.5 1626.1,139.7 1643.7,142.0 1664.5,143.8" fill="none" stroke="#ff00ff" stroke-width="1"/><rect x="12" y="536" width="10" height="1" fill="#ff00ff"/><rect x="94" y="536" width="13" height="1" fill="#ff00ff"/><polyline points="14.5,541.5 16.7,537.7 29.7,513.4 45.9,490.7 65.3,469.6 81.5,464.1 104.2,450.2 130.1,429.1 146.3,416.1 160.9,401.6 175.5,407.1 201.4,419.4 230.6,426.8 259.7,426.8 265.5,428.1 275.9,432.3 291.8,442.5 302.3,450.7 320.3,461.3 330.1,461.8 341.5,458.9 352.9,454.0 374.1,432.7 388.5,418.9 402.3,403.8 431.5,380.5 452.3,360.3 481.7,322.8 515.5,284.4 532.5,276.5 550.1,267.9 567.7,264.8 585.2,251.6 605.3,239.7 624.8,225.1 641.5,219.3 656.3,218.1 672.5,220.9 685.5,219.3 705.2,214.4 713.4,210.3 724.5,201.3 738.3,195.6 759.0,188.0 772.8,185.3 786.7,183.9 793.5,184.5 800.5,181.8 810.1,181.5 815.5,179.0 820.5,178.8 830.6,176.8 842.2,176.8 856.6,182.1 872.5,185.7 885.5,193.0 900.0,199.5 916.5,204.9 928.5,209.2 940.4,214.6 958.3,219.4 970.2,224.2 982.2,225.9 994.1,225.7 1000.5,223.7 1008.1,222.0 1019.6,216.1 1032.3,207.2 1045.1,200.8 1055.2,195.3 1068.0,191.0 1078.2,186.1 1088.3,179.5 1099.8,174.7 1112.5,170.6 1122.7,163.9 1134.2,156.9 1151.3,146.0 1163.7,135.6 1170.7,131.5 1187.2,122.9 1194.1,121.5 1204.5,119.8 1220.8,120.1 1237.2,122.1 1253.5,126.6 1269.8,134.0 1281.2,137.7 1292.5,143.1 1303.5,146.6 1320.1,154.9 1333.9,160.4 1347.7,165.2 1368.5,170.1 1379.5,170.1 1388.5,168.7 1410.7,168.7 1424.5,165.9 1437.0,159.6 1449.6,155.2 1462.2,148.3 1468.5,144.9 1481.1,140.6 1493.6,135.6 1506.2,132.4 1518.8,127.1 1531.3,122.7 1543.9,120.8 1553.9,118.9 1564.5,115.0 1582.1,107.2 1594.5,104.5 1601.5,105.1 1613.8,108.6 1626.1,109.8 1633.1,111.6 1647.2,117.7 1664.5,126.2" fill="none" stroke="#ffa500" stroke-width="1"/><rect x="8" y="135" width="1675" height="2" fill="#32cd32"/><rect x="8" y="260" width="1675" height="2" fill="#4169e1"/><rect x="8" y="347" width="1675" height="2" fill="#4169e1"/></g><g clip-path="url(#cd)" shape-rendering="crispEdges"><rect x="8" y="566" width="1" height="65" fill="#c0c0c0"/><rect x="16" y="552" width="1" height="79" fill="#c0c0c0"/><rect x="24" y="552" width="1" height="79" fill="#c0c0c0"/><rect x="32" y="552" width="1" height="79" fill="#c0c0c0"/><rect x="40" y="552" width="1" height="79" fill="#c0c0c0"/><rect x="48" y="557" width="1" height="74" fill="#c0c0c0"/><rect x="56" y="562" width="1" height="69" fill="#c0c0c0"/><rect x="64" y="565" width="1" height="66" fill="#c0c0c0"/><rect x="72" y="574" width="1" height="57" fill="#c0c0c0"/><rect x="80" y="579" width="1" height="52" fill="#c0c0c0"/><rect x="88" y="585" width="1" height="46" fill="#c0c0c0"/><rect x="96" y="586" width="1" height="45" fill="#c0c0c0"/><rect x="104" y="580" width="1" height="51" fill="#c0c0c0"/><rect x="112" y="574" width="1" height="57" fill="#c0c0c0"/><rect x="120" y="569" width="1" height="62" fill="#c0c0c0"/><rect x="128" y="566" width="1" height="65" fill="#c0c0c0"/><rect x="136" y="564" width="1" height="67" fill="#c0c0c0"/><rect x="144" y="565" width="1" height="66" fill="#c0c0c0"/><rect x="152" y="565" width="1" height="66" fill="#c0c0c0"/><rect x="160" y="571" width="1" height="60" fill="#c0c0c0"/><rect x="168" y="580" width="1" height="51" fill="#c0c0c0"/><rect x="176" y="590" width="1" height="41" fill="#c0c0c0"/><rect x="184" y="601" width="1" height="30" fill="#c0c0c0"/><rect x="192" y="612" width="1" height="19" fill="#c0c0c0"/><rect x="200" y="621" width="1" height="10" fill="#c0c0c0"/><rect x="208" y="630" width="1" height="1" fill="#c0c0c0"/><rect x="216" y="630" width="1" height="6" fill="#c0c0c0"/><rect x="224" y="630" width="1" height="9" fill="#c0c0c0"/><rect x="232" y="630" width="1" height="11" fill="#c0c0c0"/><rect x="240" y="630" width="1" height="11" fill="#c0c0c0"/><rect x="248" y="630" width="1" height="11" fill="#c0c0c0"/><rect x="256" y="630" width="1" height="9" fill="#c0c0c0"/><rect x="264" y="630" width="1" height="8" fill="#c0c0c0"/><rect x="272" y="630" width="1" height="8" fill="#c0c0c0"/><rect x="280" y="630" width="1" height="8" fill="#c0c0c0"/><rect x="288" y="630" width="1" height="7" fill="#c0c0c0"/><rect x="296" y="630" width="1" height="10" fill="#c0c0c0"/><rect x="304" y="630" width="1" height="10" fill="#c0c0c0"/><rect x="312" y="630" width="1" height="12" fill="#c0c0c0"/><rect x="320" y="630" width="1" height="9" fill="#c0c0c0"/><rect x="328" y="630" width="1" height="1" fill="#c0c0c0"/><rect x="336" y="623" width="1" height="8" fill="#c0c0c0"/><rect x="344" y="617" width="1" height="14" fill="#c0c0c0"/><rect x="352" y="609" width="1" height="22" fill="#c0c0c0"/><rect x="360" y="598" width="1" height="33" fill="#c0c0c0"/><rect x="368" y="588" width="1" height="43" fill="#c0c0c0"/><rect x="376" y="585" width="1" height="46" fill="#c0c0c0"/><rect x="384" y="574" width="1" height="57" fill="#c0c0c0"/><rect x="392" y="565" width="1" height="66" fill="#c0c0c0"/><rect x="400" y="558" width="1" height="73" fill="#c0c0c0"/><rect x="408" y="562" width="1" height="69" fill="#c0c0c0"/><rect x="416" y="566" width="1" height="65" fill="#c0c0c0"/><rect x="424" y="569" width="1" height="62" fill="#c0c0c0"/><rect x="432" y="572" width="1" height="59" fill="#c0c0c0"/><rect x="440" y="574" width="1" height="57" fill="#c0c0c0"/><rect x="448" y="571" width="1" height="60" fill="#c0c0c0"/><rect x="456" y="565" width="1" height="66" fill="#c0c0c0"/><rect x="464" y="561" width="1" height="70" fill="#c0c0c0"/><rect x="472" y="560" width="1" height="71" fill="#c0c0c0"/><rect x="480" y="556" width="1" height="75" fill="#c0c0c0"/><rect x="488" y="560" width="1" height="71" fill="#c0c0c0"/><rect x="496" y="555" width="1" height="76" fill="#c0c0c0"/><rect x="504" y="553" width="1" height="78" fill="#c0c0c0"/><rect x="512" y="552" width="1" height="79" fill="#c0c0c0"/><rect x="520" y="558" width="1" height="73" fill="#c0c0c0"/><rect x="528" y="562" width="1" height="69" fill="#c0c0c0"/><rect x="536" y="566" width="1" height="65" fill="#c0c0c0"/><rect x="544" y="568" width="1" height="63" fill="#c0c0c0"/><rect x="552" y="573" width="1" height="58" fill="#c0c0c0"/><rect x="560" y="576" width="1" height="55" fill="#c0c0c0"/><rect x="568" y="577" width="1" height="54" fill="#c0c0c0"/><rect x="576" y="576" width="1" height="55" fill="#c0c0c0"/><rect x="584" y="576" width="1" height="55" fill="#c0c0c0"/><rect x="592" y="576" width="1" height="55" fill="#c0c0c0"/><rect x="600" y="575" width="1" height="56" fill="#c0c0c0"/><rect x="608" y="571" width="1" height="60" fill="#c0c0c0"/><rect x="616" y="570" width="1" height="61" fill="#c0c0c0"/><rect x="624" y="570" width="1" height="61" fill="#c0c0c0"/><rect x="632" y="574" width="1" height="57" fill="#c0c0c0"/><rect x="640" y="579" width="1" height="52" fill="#c0c0c0"/><rect x="648" y="587" width="1" height="44" fill="#c0c0c0"/><rect x="656" y="592" width="1" height="39" fill="#c0c0c0"/><rect x="664" y="598" width="1" height="33" fill="#c0c0c0"/><rect x="672" y="603" width="1" height="28" fill="#c0c0c0"/><rect x="680" y="603" width="1" height="28" fill="#c0c0c0"/><rect x="688" y="606" width="1" height="25" fill="#c0c0c0"/><rect x="696" y="606" width="1" height="25" fill="#c0c0c0"/><rect x="704" y="607" width="1" height="24" fill="#c0c0c0"/><rect x="712" y="600" width="1" height="31" fill="#c0c0c0"/><rect x="720" y="592" width="1" height="39" fill="#c0c0c0"/><rect x="728" y="589" width="1" height="42" fill="#c0c0c0"/><rect x="736" y="586" width="1" height="45" fill="#c0c0c0"/><rect x="744" y="589" width="1" height="42" fill="#c0c0c0"/><rect x="752" y="587" width="1" height="44" fill="#c0c0c0"/><rect x="760" y="586" width="1" height="45" fill="#c0c0c0"/><rect x="768" y="588" width="1" height="43" fill="#c0c0c0"/><rect x="776" y="588" width="1" height="43" fill="#c0c0c0"/><rect x="784" y="590" width="1" height="41" fill="#c0c0c0"/><rect x="792" y="597" width="1" height="34" fill="#c0c0c0"/><rect x="800" y="597" width="1" height="34" fill="#c0c0c0"/><rect x="808" y="603" width="1" height="28" fill="#c0c0c0"/><rect x="816" y="608" width="1" height="23" fill="#c0c0c0"/><rect x="824" y="615" width="1" height="16" fill="#c0c0c0"/><rect x="832" y="621" width="1" height="10" fill="#c0c0c0"/><rect x="840" y="629" width="1" height="2" fill="#c0c0c0"/><rect x="848" y="630" width="1" height="7" fill="#c0c0c0"/><rect x="856" y="630" width="1" height="14" fill="#c0c0c0"/><rect x="864" y="630" width="1" height="20" fill="#c0c0c0"/><rect x="872" y="630" width="1" height="23" fill="#c0c0c0"/><rect x="880" y="630" width="1" height="24" fill="#c0c0c0"/><rect x="888" y="630" width="1" height="22" fill="#c0c0c0"/><rect x="896" y="630" width="1" height="19" fill="#c0c0c0"/><rect x="904" y="630" width="1" height="16" fill="#c0c0c0"/><rect x="912" y="630" width="1" height="14" fill="#c0c0c0"/><rect x="920" y="630" width="1" height="12" fill="#c0c0c0"/><rect x="928" y="630" width="1" height="12" fill="#c0c0c0"/><rect x="936" y="630" width="1" height="9" fill="#c0c0c0"/><rect x="944" y="630" width="1" height="4" fill="#c0c0c0"/><rect x="952" y="630" width="1" height="2" fill="#c0c0c0"/><rect x="960" y="630" width="1" height="5" fill="#c0c0c0"/><rect x="968" y="630" width="1" height="6" fill="#c0c0c0"/><rect x="976" y="630" width="1" height="6" fill="#c0c0c0"/><rect x="984" y="630" width="1" height="4" fill="#c0c0c0"/><rect x="992" y="630" width="1" height="2" fill="#c0c0c0"/><rect x="1000" y="628" width="1" height="3" fill="#c0c0c0"/><rect x="1008" y="624" width="1" height="7" fill="#c0c0c0"/><rect x="1016" y="622" width="1" height="9" fill="#c0c0c0"/><rect x="1024" y="617" width="1" height="14" fill="#c0c0c0"/><rect x="1032" y="613" width="1" height="18" fill="#c0c0c0"/><rect x="1040" y="609" width="1" height="22" fill="#c0c0c0"/><rect x="1048" y="605" width="1" height="26" fill="#c0c0c0"/><rect x="1056" y="602" width="1" height="29" fill="#c0c0c0"/><rect x="1064" y="601" width="1" height="30" fill="#c0c0c0"/><rect x="1072" y="601" width="1" height="30" fill="#c0c0c0"/><rect x="1080" y="599" width="1" height="32" fill="#c0c0c0"/><rect x="1088" y="594" width="1" height="37" fill="#c0c0c0"/><rect x="1096" y="596" width="1" height="35" fill="#c0c0c0"/><rect x="1104" y="599" width="1" height="32" fill="#c0c0c0"/><rect x="1112" y="599" width="1" height="32" fill="#c0c0c0"/><rect x="1120" y="598" width="1" height="33" fill="#c0c0c0"/><rect x="1128" y="597" width="1" height="34" fill="#c0c0c0"/><rect x="1136" y="597" width="1" height="34" fill="#c0c0c0"/><rect x="1144" y="594" width="1" height="37" fill="#c0c0c0"/><rect x="1152" y="591" width="1" height="40" fill="#c0c0c0"/><rect x="1160" y="587" width="1" height="44" fill="#c0c0c0"/><rect x="1168" y="583" width="1" height="48" fill="#c0c0c0"/><rect x="1176" y="583" width="1" height="48" fill="#c0c0c0"/><rect x="1184" y="585" width="1" height="46" fill="#c0c0c0"/><rect x="1192" y="591" width="1" height="40" fill="#c0c0c0"/><rect x="1200" y="595" width="1" height="36" fill="#c0c0c0"/><rect x="1208" y="601" width="1" height="30" fill="#c0c0c0"/><rect x="1216" y="609" width="1" height="22" fill="#c0c0c0"/><rect x="1224" y="617" width="1" height="14" fill="#c0c0c0"/><rect x="1232" y="623" width="1" height="8" fill="#c0c0c0"/><rect x="1240" y="630" width="1" height="1" fill="#c0c0c0"/><rect x="1248" y="630" width="1" height="5" fill="#c0c0c0"/><rect x="1256" y="630" width="1" height="10" fill="#c0c0c0"/><rect x="1264" y="630" width="1" height="18" fill="#c0c0c0"/><rect x="1272" y="630" width="1" height="22" fill="#c0c0c0"/><rect x="1280" y="630" width="1" height="25" fill="#c0c0c0"/><rect x="1288" y="630" width="1" height="27" fill="#c0c0c0"/><rect x="1296" y="630" width="1" height="27" fill="#c0c0c0"/><rect x="1304" y="630" width="1" height="24" fill="#c0c0c0"/><rect x="1312" y="630" width="1" height="22" fill="#c0c0c0"/><rect x="1320" y="630" width="1" height="18" fill="#c0c0c0"/><rect x="1328" y="630" width="1" height="13" fill="#c0c0c0"/><rect x="1336" y="630" width="1" height="10" fill="#c0c0c0"/><rect x="1344" y="630" width="1" height="2" fill="#c0c0c0"/><rect x="1352" y="630" width="1" height="2" fill="#c0c0c0"/><rect x="1360" y="630" width="1" height="1" fill="#c0c0c0"/><rect x="1368" y="629" width="1" height="2" fill="#c0c0c0"/><rect x="1376" y="627" width="1" height="4" fill="#c0c0c0"/><rect x="1384" y="625" width="1" height="6" fill="#c0c0c0"/><rect x="1392" y="625" width="1" height="6" fill="#c0c0c0"/><rect x="1400" y="628" width="1" height="3" fill="#c0c0c0"/><rect x="1408" y="630" width="1" height="1" fill="#c0c0c0"/><rect x="1416" y="630" width="1" height="1" fill="#c0c0c0"/><rect x="1424" y="628" width="1" height="3" fill="#c0c0c0"/><rect x="1432" y="626" width="1" height="5" fill="#c0c0c0"/><rect x="1440" y="623" width="1" height="8" fill="#c0c0c0"/><rect x="1448" y="622" width="1" height="9" fill="#c0c0c0"/><rect x="1456" y="619" width="1" height="12" fill="#c0c0c0"/><rect x="1464" y="615" width="1" height="16" fill="#c0c0c0"/><rect x="1472" y="613" width="1" height="18" fill="#c0c0c0"/><rect x="1480" y="611" width="1" height="20" fill="#c0c0c0"/><rect x="1488" y="609" width="1" height="22" fill="#c0c0c0"/><rect x="1496" y="607" width="1" height="24" fill="#c0c0c0"/><rect x="1504" y="605" width="1" height="26" fill="#c0c0c0"/><rect x="1512" y="602" width="1" height="29" fill="#c0c0c0"/><rect x="1520" y="600" width="1" height="31" fill="#c0c0c0"/><rect x="1528" y="599" width="1" height="32" fill="#c0c0c0"/><rect x="1536" y="603" width="1" height="28" fill="#c0c0c0"/><rect x="1544" y="605" width="1" height="26" fill="#c0c0c0"/><rect x="1552" y="606" width="1" height="25" fill="#c0c0c0"/><rect x="1560" y="607" width="1" height="24" fill="#c0c0c0"/><rect x="1568" y="610" width="1" height="21" fill="#c0c0c0"/><rect x="1576" y="612" width="1" height="19" fill="#c0c0c0"/><rect x="1584" y="611" width="1" height="20" fill="#c0c0c0"/><rect x="1592" y="611" width="1" height="20" fill="#c0c0c0"/><rect x="1600" y="619" width="1" height="12" fill="#c0c0c0"/><rect x="1608" y="629" width="1" height="2" fill="#c0c0c0"/><rect x="1616" y="630" width="1" height="4" fill="#c0c0c0"/><rect x="1624" y="630" width="1" height="8" fill="#c0c0c0"/><rect x="1632" y="630" width="1" height="8" fill="#c0c0c0"/><rect x="1640" y="630" width="1" height="15" fill="#c0c0c0"/><rect x="1648" y="630" width="1" height="21" fill="#c0c0c0"/><rect x="1656" y="630" width="1" height="24" fill="#c0c0c0"/><rect x="1664" y="630" width="1" height="27" fill="#c0c0c0"/><polyline points="8.5,596.4 21.3,584.2 35.2,574.7 49.1,567.4 64.7,558.2 75.2,557.7 82.1,558.7 97.7,567.8 111.6,573.0 132.4,574.7 148.1,573.3 160.2,570.9 175.8,571.2 191.5,578.2 205.4,586.8 226.2,609.4 248.8,630.3 269.6,638.6 292.5,639.8 309.9,640.7 327.2,639.8 344.6,634.6 361.9,625.0 379.3,611.2 396.7,593.8 414.0,579.9 427.9,572.1 448.8,568.1 474.8,566.0 500.8,562.5 518.2,557.7 535.5,557.0 552.9,559.1 570.3,564.6 590.2,570.9 605.9,573.8 640.6,573.8 657.9,576.8 675.3,583.4 692.7,591.7 710.0,598.7 720.5,601.1 736.1,599.3 753.4,595.5 770.8,591.7 779.5,588.6 788.2,588.2 805.5,590.0 822.9,595.2 840.2,604.2 857.6,617.8 875.0,630.3 884.5,636.8 893.2,641.5 903.6,646.7 919.2,649.0 936.6,646.7 953.9,643.8 971.3,639.8 988.7,637.5 1006.0,633.7 1023.4,630.3 1040.8,624.2 1058.1,616.0 1075.5,609.1 1092.8,601.6 1110.2,599.9 1127.5,598.1 1144.9,596.4 1162.3,594.7 1180.5,590.7 1197.9,588.9 1211.8,590.0 1225.6,593.8 1241.3,603.3 1258.6,616.4 1276.0,631.1 1293.3,643.3 1310.7,650.2 1328.1,652.5 1342.0,650.7 1362.8,642.8 1380.2,636.8 1397.5,630.3 1414.9,628.9 1432.2,627.6 1449.6,626.4 1467.0,624.2 1478.1,621.1 1492.8,617.3 1509.2,612.0 1525.5,607.1 1541.8,603.8 1558.2,603.5 1577.8,604.3 1594.1,606.7 1607.2,610.8 1623.5,618.2 1639.8,625.5 1648.0,630.4 1664.5,640.0" fill="none" stroke="#ff0000" stroke-width="1" stroke-dasharray="3 3"/></g><g clip-path="url(#cr)" shape-rendering="crispEdges"><line x1="8" y1="697.5" x2="1683" y2="697.5" stroke="#c0c0c0" stroke-dasharray="3 3"/><line x1="8" y1="739.5" x2="1683" y2="739.5" stroke="#c0c0c0" stroke-dasharray="3 3"/><polyline points="8.5,700.1 16.5,698.3 24.5,705.6 32.5,707.0 40.5,711.7 48.5,712.6 56.5,711.7 64.5,712.6 72.5,717.8 80.5,714.7 88.5,716.9 96.5,712.9 104.5,707.0 112.5,704.8 120.5,704.8 128.5,704.8 136.5,703.6 144.5,707.7 152.5,706.0 160.5,714.7 168.5,718.7 176.5,720.4 184.5,724.7 192.5,725.6 200.5,725.6 208.5,729.9 216.5,726.8 224.5,724.7 232.5,722.7 240.5,721.6 248.5,720.4 256.5,718.7 264.5,720.4 272.5,723.0 280.5,721.6 288.5,716.1 296.5,724.7 304.5,724.7 312.5,723.9 320.5,715.7 328.5,707.7 336.5,706.0 344.5,707.7 352.5,703.0 360.5,697.8 368.5,696.6 376.5,704.8 384.5,696.6 392.5,695.6 400.5,697.0 408.5,710.0 416.5,710.0 424.5,710.8 432.5,709.1 440.5,707.4 448.5,703.0 456.5,698.7 464.5,698.7 472.5,701.8 480.5,697.8 488.5,708.8 496.5,700.8 504.5,702.5 512.5,701.8 520.5,710.0 528.5,710.8 536.5,710.8 544.5,707.0 552.5,712.6 560.5,710.8 568.5,709.1 576.5,705.3 584.5,706.5 592.5,705.6 600.5,703.9 608.5,700.8 616.5,701.8 624.5,702.5 632.5,710.0 640.5,711.2 648.5,719.2 656.5,715.7 664.5,719.9 672.5,718.7 680.5,711.7 688.5,714.7 696.5,712.6 704.5,714.0 712.5,703.0 720.5,701.8 728.5,706.0 736.5,703.6 744.5,711.7 752.5,707.7 760.5,707.0 768.5,710.8 776.5,707.7 784.5,711.2 792.5,719.9 800.5,712.9 808.5,719.9 816.5,718.7 824.5,722.7 832.5,723.9 840.5,727.9 848.5,730.8 856.5,731.7 864.5,729.1 872.5,728.6 880.5,724.7 888.5,723.0 896.5,719.9 904.5,718.7 912.5,720.9 920.5,720.9 928.5,719.9 936.5,717.4 944.5,710.8 952.5,718.7 960.5,722.7 968.5,723.9 976.5,721.3 984.5,716.1 992.5,717.8 1000.5,710.0 1008.5,710.0 1016.5,712.6 1024.5,707.7 1032.5,706.0 1040.5,706.0 1048.5,703.9 1056.5,702.7 1064.5,703.6 1072.5,707.7 1080.5,703.0 1088.5,697.8 1096.5,710.8 1104.5,714.0 1112.5,710.8 1120.5,706.0 1128.5,707.0 1136.5,710.0 1144.5,702.2 1152.5,701.8 1160.5,699.6 1168.5,697.8 1176.5,703.6 1184.5,707.7 1192.5,715.7 1200.5,714.7 1208.5,720.9 1216.5,723.3 1224.5,727.3 1232.5,725.6 1240.5,729.6 1248.5,729.9 1256.5,730.8 1264.5,737.8 1272.5,729.6 1280.5,730.8 1288.5,730.8 1296.5,727.9 1304.5,721.3 1312.5,721.6 1320.5,719.2 1328.5,715.2 1336.5,715.7 1344.5,709.1 1352.5,716.4 1360.5,715.2 1368.5,716.1 1376.5,712.6 1384.5,712.6 1392.5,716.1 1400.5,722.1 1408.5,723.9 1416.5,719.9 1424.5,715.2 1432.5,712.2 1440.5,709.1 1448.5,714.7 1456.5,710.0 1464.5,706.0 1472.5,707.7 1480.5,707.5 1488.5,706.9 1496.5,704.5 1504.5,703.5 1512.5,701.6 1520.5,700.6 1528.5,702.1 1536.5,717.7 1544.5,712.3 1552.5,710.8 1560.5,712.3 1568.5,716.6 1576.5,713.3 1584.5,708.6 1592.5,712.3 1600.5,727.3 1608.5,733.7 1616.5,727.9 1624.5,727.9 1632.5,721.8 1640.5,732.7 1648.5,732.7 1656.5,729.8 1664.5,731.2" fill="none" stroke="#1e90ff" stroke-width="1"/></g><g shape-rendering="crispEdges"><rect x="7" y="34" width="1677" height="1" fill="#000"/><rect x="7" y="537" width="1677" height="1" fill="#000"/><rect x="7" y="34" width="1" height="504" fill="#000"/><rect x="1683" y="34" width="1" height="504" fill="#000"/><rect x="7" y="539" width="1677" height="1" fill="#000"/><rect x="7" y="662" width="1677" height="1" fill="#000"/><rect x="7" y="539" width="1" height="124" fill="#000"/><rect x="1683" y="539" width="1" height="124" fill="#000"/><rect x="7" y="665" width="1677" height="1" fill="#000"/><rect x="7" y="770" width="1677" height="1" fill="#000"/><rect x="7" y="665" width="1" height="106" fill="#000"/><rect x="1683" y="665" width="1" height="106" fill="#000"/></g><g shape-rendering="crispEdges"><rect x="1683" y="39" width="3" height="1" fill="#000"/><rect x="1683" y="72" width="3" height="1" fill="#000"/><rect x="1683" y="105" width="3" height="1" fill="#000"/><rect x="1683" y="138" width="3" height="1" fill="#000"/><rect x="1683" y="171" width="3" height="1" fill="#000"/><rect x="1683" y="204" width="3" height="1" fill="#000"/><rect x="1683" y="237" width="3" height="1" fill="#000"/><rect x="1683" y="270" width="3" height="1" fill="#000"/><rect x="1683" y="303" width="3" height="1" fill="#000"/><rect x="1683" y="336" width="3" height="1" fill="#000"/><rect x="1683" y="369" width="3" height="1" fill="#000"/><rect x="1683" y="402" width="3" height="1" fill="#000"/><rect x="1683" y="435" width="3" height="1" fill="#000"/><rect x="1683" y="468" width="3" height="1" fill="#000"/><rect x="1683" y="501" width="3" height="1" fill="#000"/><rect x="1683" y="534" width="3" height="1" fill="#000"/></g><text x="1689" y="43.3" font-family="Liberation Sans, sans-serif" font-size="10" textLength="37.74" lengthAdjust="spacingAndGlyphs" fill="#000" stroke="#000" stroke-width="0.25">2987.400</text><text x="1689" y="76.3" font-family="Liberation Sans, sans-serif" font-size="10" textLength="37.74" lengthAdjust="spacingAndGlyphs" fill="#000" stroke="#000" stroke-width="0.25">2949.450</text><text x="1689" y="109.3" font-family="Liberation Sans, sans-serif" font-size="10" textLength="37.07" lengthAdjust="spacingAndGlyphs" fill="#000" stroke="#000" stroke-width="0.25">2911.500</text><text x="1689" y="142.3" font-family="Liberation Sans, sans-serif" font-size="10" textLength="37.74" lengthAdjust="spacingAndGlyphs" fill="#000" stroke="#000" stroke-width="0.25">2873.550</text><text x="1689" y="175.3" font-family="Liberation Sans, sans-serif" font-size="10" textLength="37.74" lengthAdjust="spacingAndGlyphs" fill="#000" stroke="#000" stroke-width="0.25">2834.450</text><text x="1689" y="208.3" font-family="Liberation Sans, sans-serif" font-size="10" textLength="37.74" lengthAdjust="spacingAndGlyphs" fill="#000" stroke="#000" stroke-width="0.25">2796.500</text><text x="1689" y="241.3" font-family="Liberation Sans, sans-serif" font-size="10" textLength="37.74" lengthAdjust="spacingAndGlyphs" fill="#000" stroke="#000" stroke-width="0.25">2758.550</text><text x="1689" y="274.3" font-family="Liberation Sans, sans-serif" font-size="10" textLength="37.74" lengthAdjust="spacingAndGlyphs" fill="#000" stroke="#000" stroke-width="0.25">2719.450</text><text x="1689" y="307.3" font-family="Liberation Sans, sans-serif" font-size="10" textLength="37.74" lengthAdjust="spacingAndGlyphs" fill="#000" stroke="#000" stroke-width="0.25">2681.550</text><text x="1689" y="340.3" font-family="Liberation Sans, sans-serif" font-size="10" textLength="37.74" lengthAdjust="spacingAndGlyphs" fill="#000" stroke="#000" stroke-width="0.25">2643.550</text><text x="1689" y="373.3" font-family="Liberation Sans, sans-serif" font-size="10" textLength="37.74" lengthAdjust="spacingAndGlyphs" fill="#000" stroke="#000" stroke-width="0.25">2605.600</text><text x="1689" y="406.3" font-family="Liberation Sans, sans-serif" font-size="10" textLength="37.74" lengthAdjust="spacingAndGlyphs" fill="#000" stroke="#000" stroke-width="0.25">2566.650</text><text x="1689" y="439.3" font-family="Liberation Sans, sans-serif" font-size="10" textLength="37.74" lengthAdjust="spacingAndGlyphs" fill="#000" stroke="#000" stroke-width="0.25">2528.550</text><text x="1689" y="472.3" font-family="Liberation Sans, sans-serif" font-size="10" textLength="37.74" lengthAdjust="spacingAndGlyphs" fill="#000" stroke="#000" stroke-width="0.25">2490.600</text><text x="1689" y="505.3" font-family="Liberation Sans, sans-serif" font-size="10" textLength="37.74" lengthAdjust="spacingAndGlyphs" fill="#000" stroke="#000" stroke-width="0.25">2452.650</text><text x="1689" y="538.3" font-family="Liberation Sans, sans-serif" font-size="10" textLength="37.74" lengthAdjust="spacingAndGlyphs" fill="#000" stroke="#000" stroke-width="0.25">2414.700</text><rect x="1685" y="130" width="43" height="11" fill="#32cd32"/><text x="1689" y="139" font-family="Liberation Sans, sans-serif" font-size="10" textLength="37.74" lengthAdjust="spacingAndGlyphs" fill="#fff" stroke="#fff" stroke-width="0.25">2875.000</text><rect x="1685" y="180" width="43" height="11" fill="#000"/><text x="1689" y="189" font-family="Liberation Sans, sans-serif" font-size="10" textLength="37.74" lengthAdjust="spacingAndGlyphs" fill="#fff" stroke="#fff" stroke-width="0.25">2818.250</text><rect x="1685" y="255" width="43" height="11" fill="#4169e1"/><text x="1689" y="264" font-family="Liberation Sans, sans-serif" font-size="10" textLength="37.74" lengthAdjust="spacingAndGlyphs" fill="#fff" stroke="#fff" stroke-width="0.25">2730.000</text><rect x="1685" y="342" width="43" height="11" fill="#4169e1"/><text x="1689" y="351" font-family="Liberation Sans, sans-serif" font-size="10" textLength="37.74" lengthAdjust="spacingAndGlyphs" fill="#fff" stroke="#fff" stroke-width="0.25">2630.000</text><g shape-rendering="crispEdges"><rect x="1683" y="541" width="3" height="1" fill="#000"/><rect x="1683" y="630" width="3" height="1" fill="#000"/><rect x="1683" y="661" width="3" height="1" fill="#000"/></g><text x="1687" y="550" font-family="Liberation Sans, sans-serif" font-size="10" textLength="33.43" lengthAdjust="spacingAndGlyphs" fill="#000" stroke="#000" stroke-width="0.25">61.0714</text><text x="1687" y="634" font-family="Liberation Sans, sans-serif" font-size="10" textLength="18.00" lengthAdjust="spacingAndGlyphs" fill="#000" stroke="#000" stroke-width="0.25">0.00</text><text x="1687" y="660" font-family="Liberation Sans, sans-serif" font-size="10" textLength="36.51" lengthAdjust="spacingAndGlyphs" fill="#000" stroke="#000" stroke-width="0.25">-22.4269</text><g shape-rendering="crispEdges"><rect x="1683" y="666" width="3" height="1" fill="#000"/><rect x="1683" y="697" width="3" height="1" fill="#000"/><rect x="1683" y="739" width="3" height="1" fill="#000"/><rect x="1683" y="769" width="3" height="1" fill="#000"/></g><text x="1687" y="676" font-family="Liberation Sans, sans-serif" font-size="10" textLength="15.43" lengthAdjust="spacingAndGlyphs" fill="#000" stroke="#000" stroke-width="0.25">100</text><text x="1687" y="701" font-family="Liberation Sans, sans-serif" font-size="10" textLength="10.29" lengthAdjust="spacingAndGlyphs" fill="#000" stroke="#000" stroke-width="0.25">70</text><text x="1687" y="743" font-family="Liberation Sans, sans-serif" font-size="10" textLength="10.29" lengthAdjust="spacingAndGlyphs" fill="#000" stroke="#000" stroke-width="0.25">30</text><text x="1687" y="767" font-family="Liberation Sans, sans-serif" font-size="10" textLength="5.14" lengthAdjust="spacingAndGlyphs" fill="#000" stroke="#000" stroke-width="0.25">0</text><g shape-rendering="crispEdges"><rect x="8" y="771" width="1" height="3" fill="#000"/><rect x="72" y="771" width="1" height="3" fill="#000"/><rect x="136" y="771" width="1" height="3" fill="#000"/><rect x="200" y="771" width="1" height="3" fill="#000"/><rect x="264" y="771" width="1" height="3" fill="#000"/><rect x="328" y="771" width="1" height="3" fill="#000"/><rect x="392" y="771" width="1" height="3" fill="#000"/><rect x="456" y="771" width="1" height="3" fill="#000"/><rect x="520" y="771" width="1" height="3" fill="#000"/><rect x="584" y="771" width="1" height="3" fill="#000"/><rect x="648" y="771" width="1" height="3" fill="#000"/><rect x="712" y="771" width="1" height="3" fill="#000"/><rect x="776" y="771" width="1" height="3" fill="#000"/><rect x="840" y="771" width="1" height="3" fill="#000"/><rect x="904" y="771" width="1" height="3" fill="#000"/><rect x="968" y="771" width="1" height="3" fill="#000"/><rect x="1032" y="771" width="1" height="3" fill="#000"/><rect x="1096" y="771" width="1" height="3" fill="#000"/><rect x="1160" y="771" width="1" height="3" fill="#000"/><rect x="1224" y="771" width="1" height="3" fill="#000"/><rect x="1288" y="771" width="1" height="3" fill="#000"/><rect x="1352" y="771" width="1" height="3" fill="#000"/><rect x="1416" y="771" width="1" height="3" fill="#000"/><rect x="1480" y="771" width="1" height="3" fill="#000"/><rect x="1544" y="771" width="1" height="3" fill="#000"/><rect x="1608" y="771" width="1" height="3" fill="#000"/></g><text x="7" y="783" font-family="Liberation Sans, sans-serif" font-size="10" textLength="51.93" lengthAdjust="spacingAndGlyphs" fill="#000" stroke="#000" stroke-width="0.25">26 Mar 2020</text><text x="71" y="783" font-family="Liberation Sans, sans-serif" font-size="10" textLength="54.50" lengthAdjust="spacingAndGlyphs" fill="#000" stroke="#000" stroke-width="0.25">29 Mar 23:00</text><text x="135" y="783" font-family="Liberation Sans, sans-serif" font-size="10" textLength="54.50" lengthAdjust="spacingAndGlyphs" fill="#000" stroke="#000" stroke-width="0.25">31 Mar 04:00</text><text x="199" y="783" font-family="Liberation Sans, sans-serif" font-size="10" textLength="47.31" lengthAdjust="spacingAndGlyphs" fill="#000" stroke="#000" stroke-width="0.25">1 Apr 12:00</text><text x="263" y="783" font-family="Liberation Sans, sans-serif" font-size="10" textLength="47.31" lengthAdjust="spacingAndGlyphs" fill="#000" stroke="#000" stroke-width="0.25">2 Apr 20:00</text><text x="327" y="783" font-family="Liberation Sans, sans-serif" font-size="10" textLength="47.31" lengthAdjust="spacingAndGlyphs" fill="#000" stroke="#000" stroke-width="0.25">6 Apr 00:00</text><text x="391" y="783" font-family="Liberation Sans, sans-serif" font-size="10" textLength="47.31" lengthAdjust="spacingAndGlyphs" fill="#000" stroke="#000" stroke-width="0.25">7 Apr 08:00</text><text x="455" y="783" font-family="Liberation Sans, sans-serif" font-size="10" textLength="47.31" lengthAdjust="spacingAndGlyphs" fill="#000" stroke="#000" stroke-width="0.25">8 Apr 16:00</text><text x="519" y="783" font-family="Liberation Sans, sans-serif" font-size="10" textLength="52.46" lengthAdjust="spacingAndGlyphs" fill="#000" stroke="#000" stroke-width="0.25">12 Apr 23:00</text><text x="583" y="783" font-family="Liberation Sans, sans-serif" font-size="10" textLength="52.46" lengthAdjust="spacingAndGlyphs" fill="#000" stroke="#000" stroke-width="0.25">14 Apr 04:00</text><text x="647" y="783" font-family="Liberation Sans, sans-serif" font-size="10" textLength="52.46" lengthAdjust="spacingAndGlyphs" fill="#000" stroke="#000" stroke-width="0.25">15 Apr 12:00</text><text x="711" y="783" font-family="Liberation Sans, sans-serif" font-size="10" textLength="52.46" lengthAdjust="spacingAndGlyphs" fill="#000" stroke="#000" stroke-width="0.25">16 Apr 20:00</text><text x="775" y="783" font-family="Liberation Sans, sans-serif" font-size="10" textLength="52.46" lengthAdjust="spacingAndGlyphs" fill="#000" stroke="#000" stroke-width="0.25">20 Apr 00:00</text><text x="839" y="783" font-family="Liberation Sans, sans-serif" font-size="10" textLength="52.46" lengthAdjust="spacingAndGlyphs" fill="#000" stroke="#000" stroke-width="0.25">21 Apr 08:00</text><text x="903" y="783" font-family="Liberation Sans, sans-serif" font-size="10" textLength="52.46" lengthAdjust="spacingAndGlyphs" fill="#000" stroke="#000" stroke-width="0.25">22 Apr 16:00</text><text x="967" y="783" font-family="Liberation Sans, sans-serif" font-size="10" textLength="52.46" lengthAdjust="spacingAndGlyphs" fill="#000" stroke="#000" stroke-width="0.25">24 Apr 00:00</text><text x="1031" y="783" font-family="Liberation Sans, sans-serif" font-size="10" textLength="52.46" lengthAdjust="spacingAndGlyphs" fill="#000" stroke="#000" stroke-width="0.25">27 Apr 04:00</text><text x="1095" y="783" font-family="Liberation Sans, sans-serif" font-size="10" textLength="52.46" lengthAdjust="spacingAndGlyphs" fill="#000" stroke="#000" stroke-width="0.25">28 Apr 12:00</text><text x="1159" y="783" font-family="Liberation Sans, sans-serif" font-size="10" textLength="52.46" lengthAdjust="spacingAndGlyphs" fill="#000" stroke="#000" stroke-width="0.25">29 Apr 20:00</text><text x="1223" y="783" font-family="Liberation Sans, sans-serif" font-size="10" textLength="50.90" lengthAdjust="spacingAndGlyphs" fill="#000" stroke="#000" stroke-width="0.25">1 May 04:00</text><text x="1287" y="783" font-family="Liberation Sans, sans-serif" font-size="10" textLength="50.90" lengthAdjust="spacingAndGlyphs" fill="#000" stroke="#000" stroke-width="0.25">4 May 08:00</text><text x="1351" y="783" font-family="Liberation Sans, sans-serif" font-size="10" textLength="50.90" lengthAdjust="spacingAndGlyphs" fill="#000" stroke="#000" stroke-width="0.25">5 May 16:00</text><text x="1415" y="783" font-family="Liberation Sans, sans-serif" font-size="10" textLength="50.90" lengthAdjust="spacingAndGlyphs" fill="#000" stroke="#000" stroke-width="0.25">7 May 00:00</text><text x="1479" y="783" font-family="Liberation Sans, sans-serif" font-size="10" textLength="50.90" lengthAdjust="spacingAndGlyphs" fill="#000" stroke="#000" stroke-width="0.25">8 May 08:00</text><text x="1543" y="783" font-family="Liberation Sans, sans-serif" font-size="10" textLength="55.36" lengthAdjust="spacingAndGlyphs" fill="#000" stroke="#000" stroke-width="0.25">11 May 12:00</text><text x="1607" y="783" font-family="Liberation Sans, sans-serif" font-size="10" textLength="56.05" lengthAdjust="spacingAndGlyphs" fill="#000" stroke="#000" stroke-width="0.25">12 May 20:00</text><path d="M11 41h7l-3.5 4z" fill="#000"/><text x="23" y="45.5" font-family="Liberation Sans, sans-serif" font-size="10" textLength="212.40" lengthAdjust="spacingAndGlyphs" fill="#000" stroke="#000" stroke-width="0.25" xml:space="preserve">SP500-,H4  2816.750 2824.500 2816.750 2818.250</text><text x="12" y="552.2" font-family="Liberation Sans, sans-serif" font-size="10" textLength="137.28" lengthAdjust="spacingAndGlyphs" fill="#000" stroke="#000" stroke-width="0.25">MACD(12,26,9) -18.6316 -7.3134</text><text x="12" y="678" font-family="Liberation Sans, sans-serif" font-size="10" textLength="67.87" lengthAdjust="spacingAndGlyphs" fill="#000" stroke="#000" stroke-width="0.25">RSI(14) 38.2568</text><text x="1299" y="462" font-family="Liberation Sans, Noto Sans CJK SC, sans-serif" font-size="32" fill="#ff1a00">多空转折点<tspan font-size="33.5" dx="0.5">2875</tspan></text></svg>
<!-- bottom tabs -->
<div class="abs" style="left:0;top:791px;width:1728px;height:1px;background:#dcdcdc;"></div>
<div class="abs" style="left:0;top:792px;width:1728px;height:4px;background:#fff;"></div>
<div class="abs" style="left:3px;top:793px;width:263px;height:3px;border-top:1px solid #000;border-right:1px solid #000;border-left:1px solid #000;box-sizing:border-box;background:#f0f0f0;"></div>
<div class="abs" style="left:344px;top:793px;width:1384px;height:3px;border-top:1px solid #000;border-left:1px solid #000;box-sizing:border-box;background:#f0f0f0;"></div>
</body></html>
